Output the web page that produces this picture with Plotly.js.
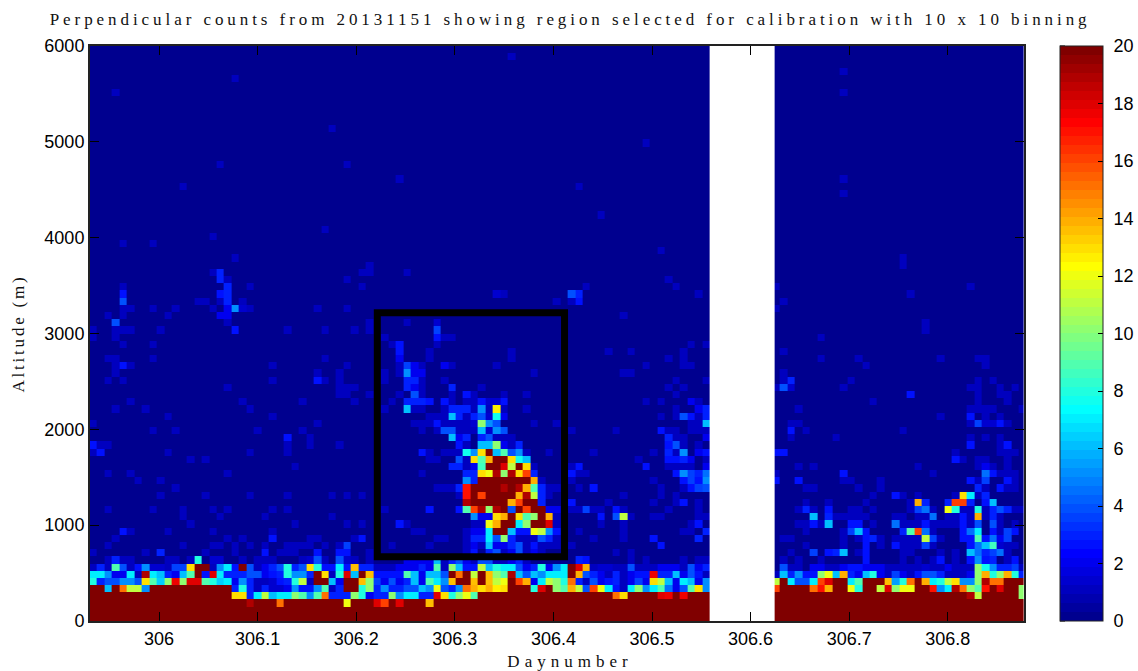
<!DOCTYPE html>
<html>
<head>
<meta charset="utf-8">
<script src="https://cdn.plot.ly/plotly-3.0.1.min.js"></script>
<style>
html,body{margin:0;padding:0;background:#fff}
.gtitle{letter-spacing:3.93px}
.xtitle{letter-spacing:5px}
.ytitle{letter-spacing:2.8px}
</style>
</head>
<body>
<div id="chart" style="width:1138px;height:671px"></div>
<script>
// Text tokens: "col:value" or "first-last:value", later tokens override earlier ones. Index = altitude row (75 m bins).
const leftRows = [
"0-82:20",
"0-82:20",
"0-82:20 21:19 25:15 34:12 38:18 39:16 41:18 45:13.5",
"0-18:20 19:13 20:13 21:3 22:7 23:11 24:6 25:7 26:7 27:10 28:9 29:5 30:9 31:15 32:3 33:3 34:3 35:10 36:8 37:2 38:3 39:3 40:10 41:5 42:7 43:7 44:3 45:3 46:18 47:13 48:8 49:10 50:12 51:9 52-82:20 70:15 71:13 76:18 77:17.5 79:17.5",
"0:20 1:20 2:6 3:20 4:15 5:11 6:11 7:5 8-18:20 19:3 20:8 21:3 22:1 23:3 24:1.5 25:1.5 26:2 27:5 28:2.5 29:2.5 30:5 31:9 32:1 33:3 34:20 35:20 36:8 37:10 38:3 39:5 40:3 41:3 42:4 43:4 44:6 45:5 46:12 47:4 48:3 49:5 50:15 51:14 52:13 53:14 54:12.5 55:13 56-58:20 59:8 60:18 61:20 62:10 63:9 64:14 65:11 66:4 67:16 68:12 69:7 70:2.5 71:1 72:7 73:10 74:5 75:7 76:9 77:4.5 78:2 79:4 80:9 81:13 82:5",
"0:8 1:3 2:4 3:4 4:5 5:5 6:4 7:13 8:9 9:6.5 10:10 11:17.5 12:10 13:18 14:18 15:9 16:8 17:6.5 18:7 19:2 20:5 21:3 22:1 23:1 24:1.5 25:2.5 26:3 27:8 28:11 29:1 30:20 31:20 32:6 33:2 34:20 35:20 36:13.5 37:10 38:3.5 39:2 40:4 41:2 42:3 43:6 44:2 45:9 46:7 47:5 48:13.5 49:20 50:20 51:13.5 52:20 53:13.5 54:11 55:12 56:20 57:16 58:14 59:2 60:7 61:11 62:10 63:8 64:15 65:3 66:1 67:4 68:2 69:2.5 70:3 71:1 72:2 73:3.5 74:2 75:13 76:11 77:6 78:2 79:7 80:6 81:2 82:5",
"0:7 1:7 2:5 3:2 4:2 5:7 6:1 7:19 8:7 9:6 10:3 11:2 12:6 13:9 14:20 15:2.5 16:18 17:7 18:3 19:3 20:3 21:4 22:4 23:2 24:2.5 25:3 26:8 27:5 28:5 29:3 30:20 31:13 32:1 33:8 34:18 35:6 36:20 37:13.5 38-41:2.5 42:9 43:6 44:2 45:6 46:6 47:4 48:20 49:15 50:20 51:11 52:20 53:13.5 54:10 55:9 56:19 57:6 58:4 59:6 60:5 61:7 62:7 63:7 64:20 65:14 66:4 67:3 68:2 69:1 70:3 71:1 72:2 73:2.5 74:2.5 75:17.5 76:3 77:3 78:6 79:2 80:4 81:2.5 82:1",
"0:1 1:3 2:1 3:9 4:4 5:1 6:2.5 7:5 8:1.5 9:1.5 10:1 11:3.5 12:3.5 13:13 14:20 15:20 16:1 17:5 18:7 19:2.5 20:20 21:4 22:1 23:2 24:3 25:4 26:8 27:3 28:4 29:13 30:8 31:2.5 32:2.5 33:7 34:2.5 35:13.5 36:3 37:3 38:1 39:1 40:1 41:2 42:2 43:2 44:3 45:2 46:9 47:1 48:10 49:6 50:2.5 51:2.5 52:11 53:6 54:8 55:7 56:7 57:4 58:2 59:3 60:8 61:2 62:5 63:7 64:20 65:18 66:14 67:1 68:1.5 69:1.5 70:1 71:1 72:4 73:1 74:1 75:1 76:2 77:2 78:2 79:1 80:4 81:2 82:3",
"2:1 3:3 4:1 5:1 10:1 11:1 13:1 14:8 16:1.5 17:1.5 20:1 22:1 23:1 24:1 28:1 29:1.5 30:4 31:1 33:4 34:1.5 35:1 37:1 42-45:2 46:6 47:1 48:3 49:4 50:2 51:1 52:4 53:4 54:1 55:1 56:2 57:3 58:1 65:3 66:2.5 72:1 74:1 79:1 81:1 82:1",
"0:1 7:1 9:3 15:1 19:1 23:2.5 25-27:1 30:2.5 33:2.5 34:2.5 37:1 50:1 51:2.5 53:3 54:4 55:1 56:2 57:4 58:1 59:2 60:1 70:1 72:1",
"2:1 12:1 16:1 17:1 19:1 21:1 23:1 26-29:1 31:1 33:1 34:3.5 40:1 45:1 50:1 51:2 52:1 53:6 54:2 55:2 56:3 57:4 58:1 59:2.5 60:1 61:1 62:1 64:1 76:2.5",
"3:1 18:1 20:1 24:2.5 29:1 30:1 35:1 36:2.5 46:1 47:1 50:1 51:3 52:3 53:7 54:4 55:10 56:3 57-59:1 60:4 61:3 62:1 67:1 71:1 75:2.5 81:3",
"4:2.5 5:1 10:1 16:1 24:1 43:1 44:1 50:1 51:2 52:2 53:7 54:20 55:20 56:6 57:2.5 58:2.5 59:12 60:11 61:5 62:2.5 65:1 71:1 79:1 80:1 82:3",
"13:1 27:1 34:1 36:1 41:2.5 42:1 51:1 52:1 53:12 54:14 55:20 56:20 57:7 58:10 59:20 60:20 61:18 62:1 68:1 71:1 80:1 81:2.5",
"12:1 17:1 23:1 32:1 51:5 52:2 53:2 54:13 55:14 56:20 57:13 58:9 59:10 60:20 61:14 62:1 68:2.5 70:4 71:11 72:1 75:1 76:1 81:1 82:1",
"2:1 8:1 12:1 16:1 18:1 24:1 26:1 39:1 45:2.5 49:2.5 50:9 51:16 52:19 53:10 54:19 55:20 56:4 57:20 58:16 59:20 60:20 61:2 62:2 64:1 65:1 66:3.5 67:1 68:1 70:2.5 71:1 77:1 81:1",
"50:19 51-55:20 56:14 57:16 58:20 59:20 60:3 64:2.5 69:1 75:1 78:1 79:2.5 81:1",
"9:1 15:1 21:1 26:1 32:1 34:1 36:1 49:1 50:17 51:20 52:16 53-56:20 57:14 58:19 59:11 60:3 61:1 71:1 76:1 78:1",
"11:1 46-48:1 49:3 50:17 51-54:20 55:19 56:20 57:19 58:14 59:9 60:3 61:1 62:1 65:1 67:2.5 76:1 79:1 80:2.5 81:3.5 82:4",
"6:1 9:1 50:5 51:3 52-58:20 59:14 60:1 64:1 75:1 79:2.5 80:3.5 81:2.5 82:5",
"2:1 5:1 18:1 44:1 50:3 51:3 52:13 53:12 54:19 55:10 56:19 57:13 58:16 59:3 64:2.5 65:1 66:1 78:2.5 79:5 80:3.5 81:3 82:4.5",
"27:1 48:3 49:3 50:1 51:2 52:8.5 53:20 54:20 55:18 56:11 57:20 58:13 59:1 64:1 65:2.5 74:2.5 77-80:1 82:2",
"13:1 15:1 45:1 46:1 49:4 50:1 51:13 52:9 53:14 54:20 55:20 56:13 57:7.5 58:6 73:1 77:2.5 78:2.5 79:3 80:2 82:1",
"0:1 1:2.5 10:1 21:1 26:1 44:2.5 45:1 47:1 48:1 49:1 50:7.5 51:5 52:13 53:20 54:6 55:9 56:4 57:5 58:1 61:1 67:1 75:1 77:3 78:1 79:5 81:2 82:2.5",
"0:2.5 1:1 2:1 26:1 29:1 33:1 49:2.5 50:1 52:6 53:6 54:10 55:2 56:1 57:3 77:2.5 78:4 79:1 81:1",
"26:2.5 29:1 48:6 49:2 50:3 52:3 53:4 54-56:1 77:3 78:1 79:1 82:2",
"8:1 11:1 22:1 28:1 44:1 46:1 47:4 48:4 49:1 50:1 51:1 52:6 53:1.5 54:5 55:4 64:1 70:1 76:2.5 77:1 78:1 80-82:1",
"0:1 30:1 43-45:1 46:2.5 47:1 48:1 49:1 50:1 51:1.5 52:10 53:5 54:4 59:1 62:1 80:1 81:1 82:6",
"10:1 24:1 45:1 46:1 47:1 48:6 49:3 50:1 51:3 52:4 53:1.5 54:7.5 55:2 76:1 78:1 79:4 80:2.5 81:1 82:3",
"3:1 7:1 21:1 39:1 42:6 43:1 44:1 47:1 48:3 49:3 50:3 51:1 52:5 53:1 54:12.5 55:1 58:1 78:1 81:2 82:3",
"5:1 20:1 28:1 35:1 40:1 42:3 43:3 44:3 45:2.5 47:2.5 48:1 50:1 51:1 52:2.5 53:1.5 54:1.5 55:2.5 74:1 76:1 80:2 81:1",
"33:1 34:1 37:1 41:1 43:4 44:1 48:1 50:2.5 51:1 55:1 58:1 78:1",
"18:1 33:1 34:1 35:1 42:3 43:2 44:1 48:3 52:1 77:1 79:1",
"2:1 4:1 24:1 30:2.5 31:1 33:1 39:1 42:3 43:3 44:1 47:1 78:1 82:1",
"3:1 30:1 33:1 39:1 41:1 42:5 43:2 44:2 59:1 71:1 72:1",
"3:1 4:2.5 5:1 24:1 34:1 41:1 42:3.5 43:2 44:1 47:2 48:1 54:1 74:1 79:1 80:1",
"2:1 3:1 8:1 31:1 41:2 45:1 56:1 77:1 79:1",
"41:2.5 45:1 56:1 69:1 72:1 79:1",
"4:1 8:1 40:1 41:2.5 46:1 80:1 82:1",
"0:1 3:1 39:1 46:2.5 47:1 48:1",
"0:1 3:1 4:1 5:1 9:1 19:2.5 26:1 31:1 35:1 37:1 46:3.5",
"3:4 18:1 37:1 42:1 46:1.5",
"2:1 4:1 10:1 17:2 18:2 71:1",
"4:1 5:1 8:1 11:1 16:1 18:2 19:5 20:1.5 21:1 30:1 34:1",
"4:4 14:1 15:1 17:1 18:3 20:1 62:1 64:1 65:2.5",
"4:2.5 17:2.5 18:3 54:1.5 55:1 64:4 65:3 81:1",
"4:1 18:3 21:1 36:1 66:1 78:1",
"17:3 18:1 34:1 77:1",
"16:1 17:3 36:1 37:1 42:1",
"37:1"
];
const rightRows = [
"0-33:20",
"0-33:20",
"0-33:20",
"0-33:20 26:19 27:11 33:10",
"0:16 1-4:20 5:15 6:17 7:14 8:20 9:20 10:12 11:8 12:20 13:20 14:11 15:18 16:10 17:12 18:12 19:20 20:20 21:17 22:5 23:7 24:19 25:15 26:10 27:9 28:17 29:20 30:18 31:20 32:20 33:10",
"0:11 1:20 2:7 3:4 4:4 5:7 6:16 7:18 8:20 9:20 10:7 11:9 12-14:20 15:13.5 16:5.5 17:8 18:15 19:20 20:14 21:7 22:8 23:11 24:13 25:5 26:5 27:10 28:19 29:15 30:15 31:20 32:20 33:20",
"0:1 1:6 2:3 3:5 4:2.5 5:2.5 6:10 7:12 8:6 9:14 10:3 11:2 12:6 13:8 14:2 15:1 16:3.5 17:2 18:1 19:2.5 20:4 21:4 22:3 23:1 24:1 25:1 26:2 27:10 28:14 29:8 30:10 31:14 32:8 33:3",
"1:4 2:1 3:1 5:2 6:2 7:1 8:1 9:2 10:2.5 11:2.5 12:2 13:2 14:2 15:1 16:1 17:1 18:1 19:1 20:1.5 21:1 22:1 23:2 24:1 25:1 26:1 27:10 28:7.5 29:5 30:3 31:3 32:3.5 33:1",
"1:1 3:1 6:1 12:2.5 17:1 19:1 21:1 22:2.5 24:1 26:2.5 27:5 28:2.5 29:3 31:1 32:2.5",
"2:1 5:3.5 7:2.5 8:3 9:6 11:1 12:2.5 17:1 18:1 22:1 24:1 26:6 27:4.5 28:3 29:3.5 30:4.5 31:1",
"4:1 9:1 12:2.5 14:1 16:2.5 17:1 18:1 19:1 20:3.5 21:1 26:2.5 27:4.5 28:6 29:8.5 30:1.5 31:1 32:1",
"1:1 2:1 9:1 11:1 12:2.5 13:3 14:1 16:1 17:1 18:1 19:1 20:11 21:3.5 22:1 25:2.5 26:2.5 27:9 28:2.5 29:4.5 30:2 31:3.5",
"4:1 9:1 10:3.5 11:6 12:2.5 17:3 18:9 19:16 20:4.5 21:1 25:2.5 26:4.5 27:7 29:2.5 30:1 31:3.5 32:2.5",
"3:1 4:1 5:2.5 6:1 7:6 10:2.5 11:2.5 13:1 16:4.5 17:1 18:1 19:1 20:2.5 21-24:1 25:2.5 26:1 27:4 29:4 30:1 32:1",
"5:6 7:3 8-12:1 16:1 17:1 19:1 20:1 21:4.5 23:1 24:1 25:2.5 26:1 27:14 28:1 29:3 30:1",
"3:1 4:3 5:1 7:2.5 10:1 11:1 13:1 18:1 19:3.5 20:4.5 21:1 23:12 24:8 25:1 26:1 27:8 28:1 29:3 30:4 31:3 32:1 33:1",
"4:1 7:1 12:1 18:1 19:14 20:3 23:3 24:16 25:16 26:3 28:2.5 29:6",
"13:1 16:2.5 17:1 19:1 24:1 25:13 26:7 27:1 28:3",
"4:1 5:1 11:1 14:1 27:3 28:1 30:2.5 31:1 32:1",
"0:2.5 3:2.5 9:1 10:1 14:1 26:2.5 27:1 28:3.5 31:2.5 32:1",
"0:1 9:2.5 21:1 28:4.5 29:2.5 30:1 31:1 32:1",
"3:1 5:1 19:1 27:1 28:2 29:1 31:1",
"24:2.5 25:1 27:1 28:1 31:1",
"0:2.5 1:2.5 24:1 30:1 31:1 32:1",
"26:2.5 30:1 31:2.5",
"2:1 8:1 26:1 28:1 30:1",
"2:2.5 4:1 17:1",
"2:1 3:1 26:1 27:3.5 28:1.5 29:1.5 30:2.5 31:1",
"22:1 26:2.5 28:1 30:1",
"3:1 26-29:1 33:1",
"13:1 27:1 31:1",
"18:2.5 27:1 30:1 31:1",
"0:1 1:4 2:1.5 9:1 26:1 27:1 30:1 32:1",
"1:1 2:3 10:1 27:1 29:1",
"1:1",
"12:1 28:1",
"6:1 11:1 22:1 27:1 28:1",
"1:1",
"",
"6:1",
"20:1",
"20:1",
"",
"0:1",
"1:1",
"18:1",
"0:1 26:1",
"",
"",
"17:1",
"17:1"
];
// Faint isolated cells higher up: [altitude row, tokens]
const leftHighCells = [[73,"3:1"],[75,"19:1"],[68,"32:1"],[63,"17:1 34:1"],[60,"12:1 65:1"],[52,"4:1 8:1"],[53,"16:1"],[50,"19:1"],[54,"31:1"],[61,"41:1"],[56,"68:1"],[78,"56:1"],[66,"74:1"],[51,"76:1"]];
const rightHighCells = [[59,"9:1"],[61,"9:1"],[73,"9:1"],[76,"9:1"]];

const dayStart = 305.9296, dayStep = 0.007576, leftColumns = 83;
const rightStart = 306.6247, rightSecondEdge = 306.6298, rightColumns = 34, rightEnd = 306.8773;
const rowCount = 80, altStep = 75;
const xTicks = [306,306.1,306.2,306.3,306.4,306.5,306.6,306.7,306.8];
const yTicks = [0,1000,2000,3000,4000,5000,6000];
const cbTicks = [0,2,4,6,8,10,12,14,16,18,20];
const boxX = [306.2214,306.4113], boxY = [671,3217];

function applyTokens(row, offset, text){
  text.split(" ").filter(Boolean).forEach(t=>{
    const [span,v]=t.split(":"); const [a,b]=span.split("-").map(Number);
    for(let c=a;c<=(b===undefined?a:b);c++) row[offset+c]=Number(v);
  });
}
const z=[];
for(let r=0;r<rowCount;r++){
  const row=[];
  for(let c=0;c<leftColumns;c++) row.push(0);
  row.push(null);
  for(let c=0;c<rightColumns;c++) row.push(0);
  applyTokens(row,0,leftRows[r]||"");
  applyTokens(row,leftColumns+1,rightRows[r]||"");
  leftHighCells.filter(e=>e[0]===r).forEach(e=>applyTokens(row,0,e[1]));
  rightHighCells.filter(e=>e[0]===r).forEach(e=>applyTokens(row,leftColumns+1,e[1]));
  z.push(row);
}
const xEdges=[];
for(let k=0;k<=leftColumns;k++) xEdges.push(dayStart+k*dayStep);
xEdges.push(rightStart);
for(let k=0;k<rightColumns-1;k++) xEdges.push(rightSecondEdge+k*dayStep);
xEdges.push(rightEnd);
const yEdges=[];
for(let r=0;r<=rowCount;r++) yEdges.push(r*altStep);

// MATLAB-style 64-level jet
function jet(t){
  const s=[[0,[0,0,143]],[7/63,[0,0,255]],[23/63,[0,255,255]],[39/63,[255,255,0]],[55/63,[255,0,0]],[1,[128,0,0]]];
  for(let i=1;i<s.length;i++) if(t<=s[i][0]){
    const f=(t-s[i-1][0])/(s[i][0]-s[i-1][0]);
    const c=s[i-1][1].map((v,j)=>Math.round(v+f*(s[i][1][j]-v)));
    return `rgb(${c.join(",")})`;
  }
  return "rgb(128,0,0)";
}
const colorscale=[];
for(let i=0;i<64;i++){ const col=jet(i/63); colorscale.push([i/64,col]); colorscale.push([(i+1)/64,col]); }

const serif='"Liberation Serif","DejaVu Serif",serif';
const sans='"Liberation Sans",Arial,sans-serif';
const cbX=(1060-90)/934;
const cbShapes=cbTicks.map(v=>({type:"line",xref:"paper",yref:"paper",x0:cbX,x1:cbX+5/934,y0:v/20,y1:v/20,line:{color:"#000",width:1}}));

Plotly.newPlot("chart",[{
  type:"heatmap",x:xEdges,y:yEdges,z:z,zmin:0,zmax:20,zsmooth:false,colorscale:colorscale,hoverongaps:false,
  colorbar:{x:cbX,xanchor:"left",xpad:0,ypad:0,y:0,yanchor:"bottom",len:1,lenmode:"fraction",thickness:43,thicknessmode:"pixels",
    tickvals:cbTicks,ticktext:cbTicks.map(String),ticks:"inside",ticklen:5,tickcolor:"#000",tickwidth:1,
    outlinecolor:"#222",outlinewidth:1,tickfont:{family:sans,size:18,color:"#000"}}
}],{
  width:1138,height:671,margin:{l:90,r:114,t:46,b:50,pad:0,autoexpand:false},paper_bgcolor:"#fff",plot_bgcolor:"#fff",
  title:{text:"Perpendicular counts from 20131151 showing region selected for calibration with 10 x 10 binning",
    font:{family:serif,size:17,color:"#111"},x:0.501,xanchor:"center",y:0.971,yanchor:"middle"},
  xaxis:{range:[305.93,306.8773],tickvals:xTicks,ticktext:xTicks.map(String),ticks:"inside",ticklen:9,tickcolor:"#000",mirror:"ticks",showline:true,linecolor:"#222",linewidth:2,showgrid:false,zeroline:false,
    tickfont:{family:sans,size:18,color:"#000"},title:{text:"Daynumber",font:{family:serif,size:17,color:"#111"},standoff:6}},
  yaxis:{range:[0,6000],tickvals:yTicks,ticktext:yTicks.map(String),ticks:"inside",ticklen:9,tickcolor:"#000",mirror:"ticks",showline:true,linecolor:"#222",linewidth:2,showgrid:false,zeroline:false,
    tickfont:{family:sans,size:18,color:"#000"},title:{text:"Altitude (m)",font:{family:serif,size:17,color:"#111"},standoff:15}},
  shapes:[{type:"rect",xref:"x",yref:"y",x0:boxX[0],x1:boxX[1],y0:boxY[0],y1:boxY[1],line:{color:"#000",width:7},layer:"above"}].concat(cbShapes)
},{displayModeBar:false,staticPlot:true}).then(()=>{
  // Nudge a few labels to where the reference has them.
  document.querySelectorAll(".colorbar text").forEach(t=>{ t.setAttribute("x",Number(t.getAttribute("x"))+6); });
  const xt=document.querySelector(".xtitle");
  if(xt){ xt.setAttribute("x",570); xt.setAttribute("y",Math.min(Number(xt.getAttribute("y"))+3,667)); }
});
</script>
</body>
</html>
